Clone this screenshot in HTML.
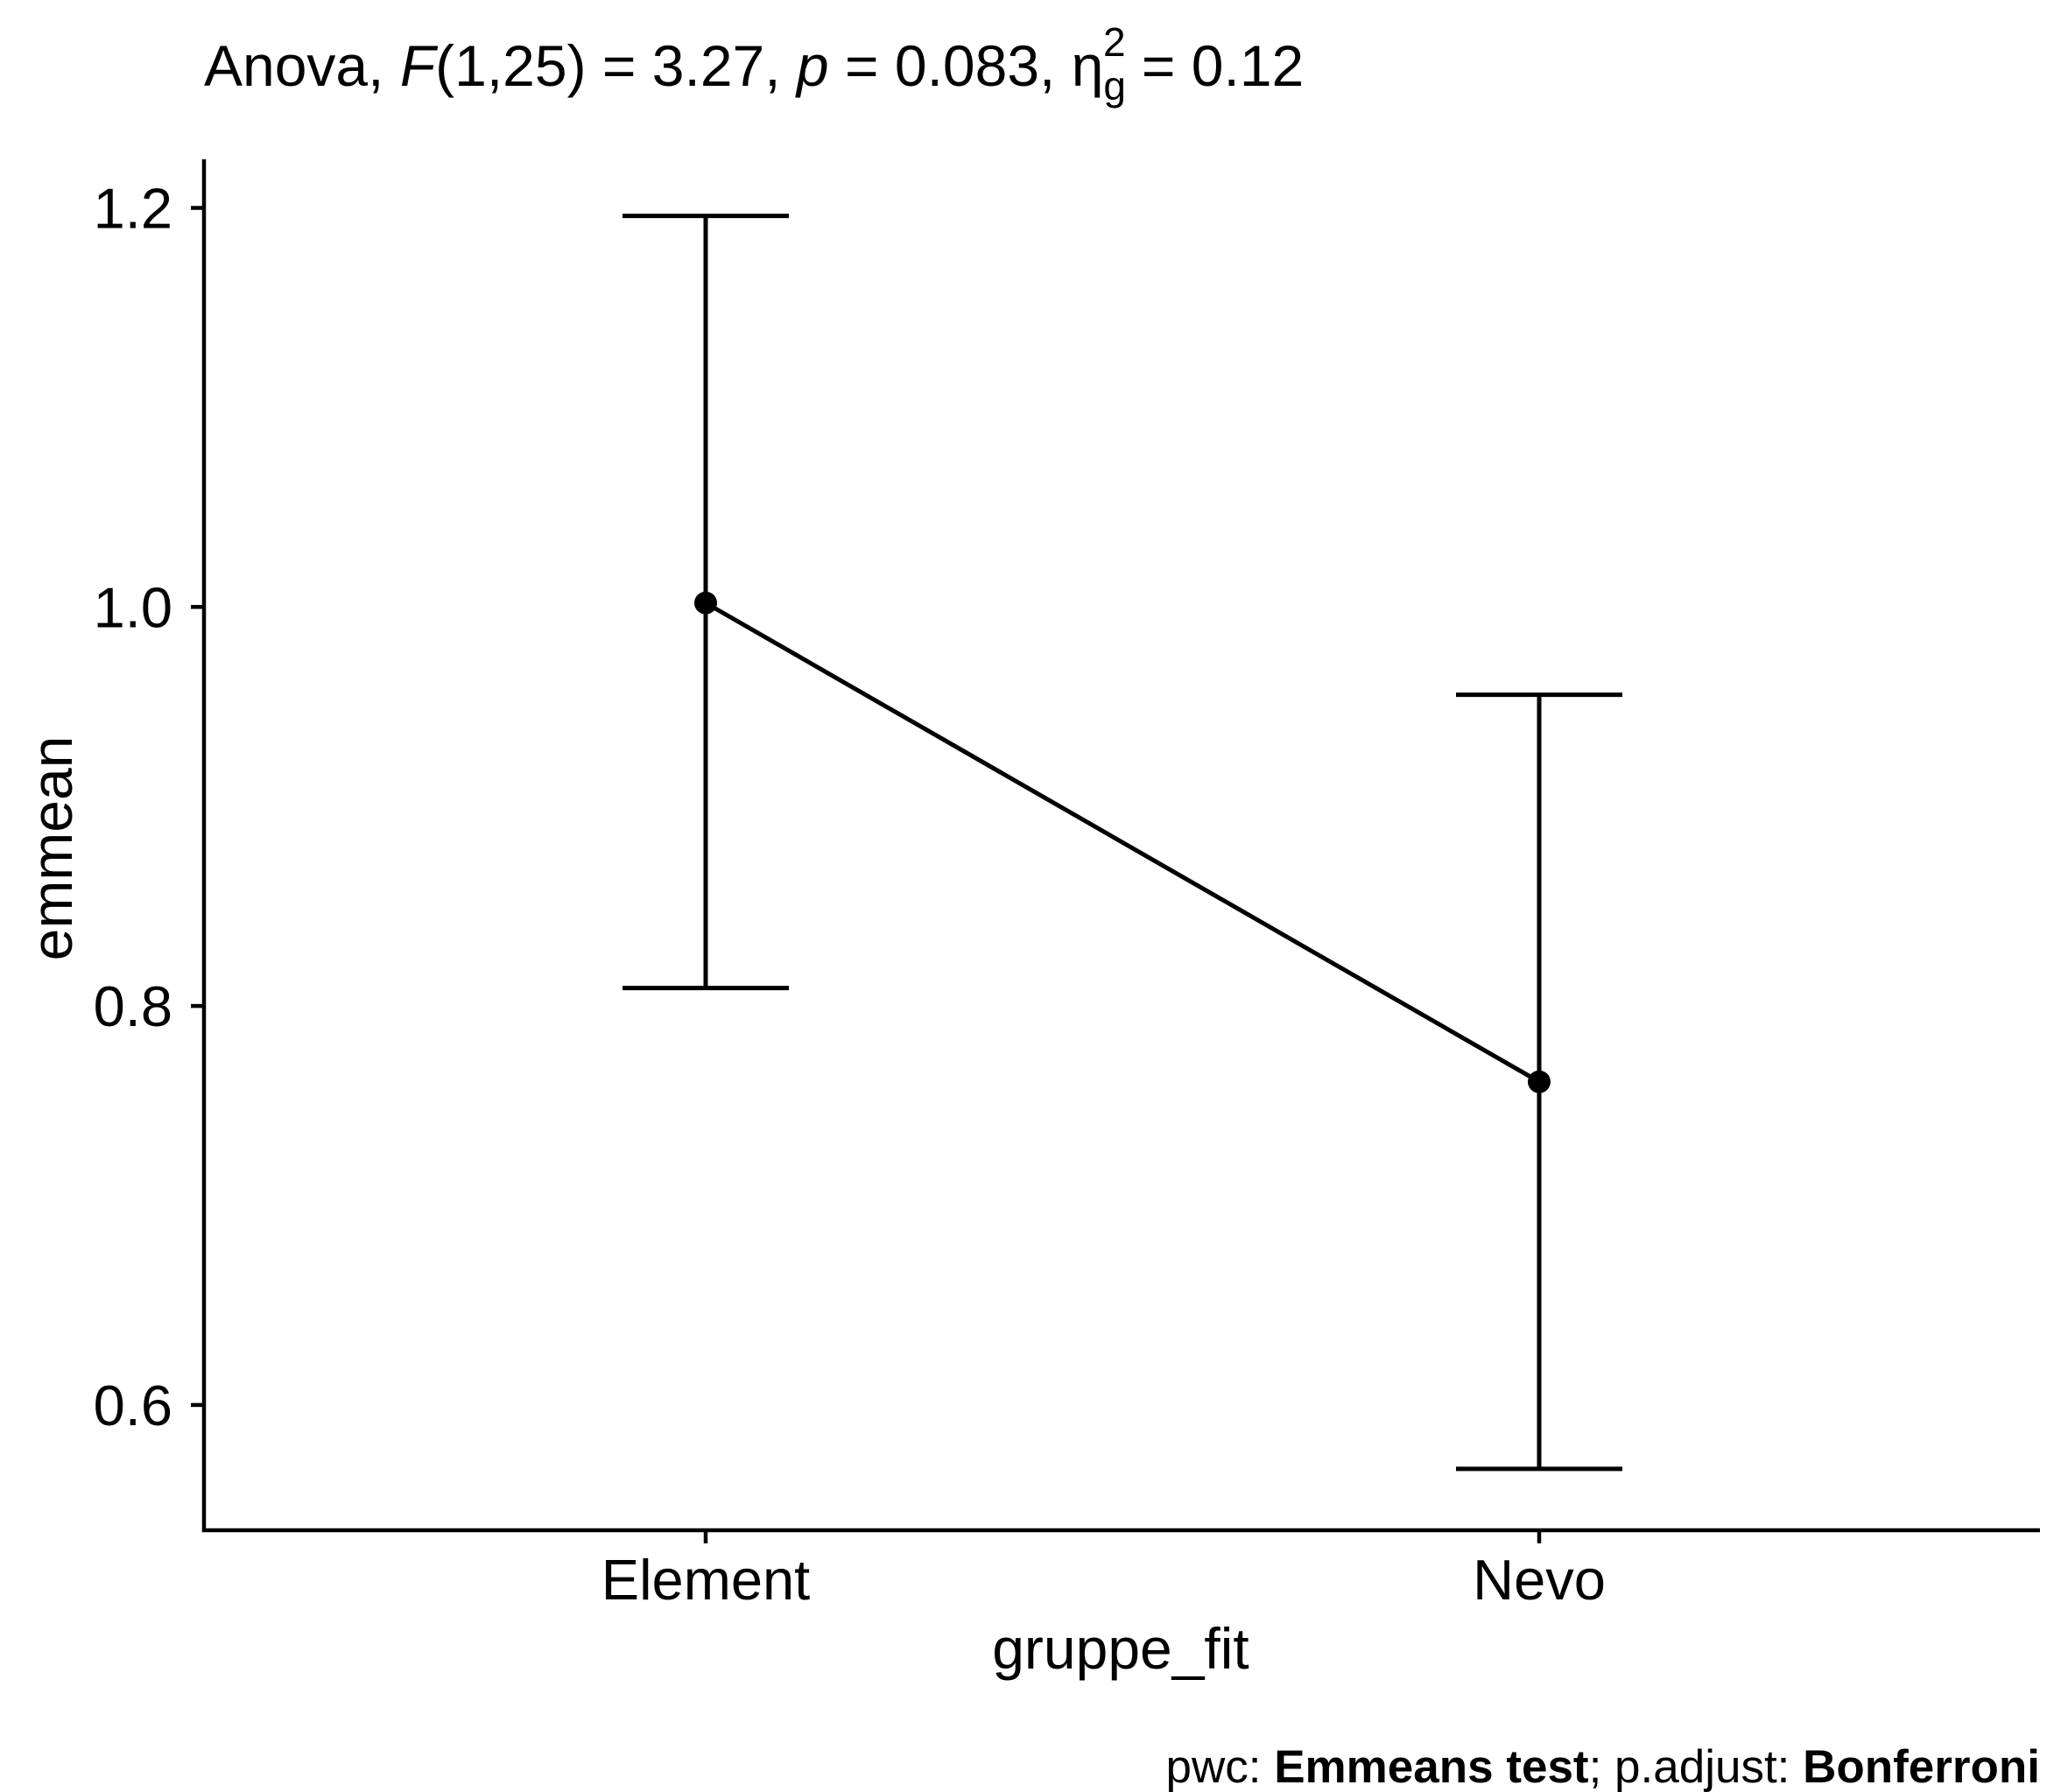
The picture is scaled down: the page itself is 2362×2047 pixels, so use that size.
<!DOCTYPE html>
<html><head><meta charset="utf-8"><style>
html,body{margin:0;padding:0;background:#fff}
svg{display:block;font-family:"Liberation Sans",Arial,sans-serif}
</style></head><body>
<svg id="chart" width="2362" height="2047" viewBox="0 0 2362 2047" xmlns="http://www.w3.org/2000/svg">
<text x="233" y="98" font-size="66">Anova, <tspan font-style="italic">F</tspan>(1,25) = 3.27, <tspan font-style="italic">p</tspan> = 0.083, η<tspan dy="16" font-size="46">g</tspan><tspan dx="-26" dy="-50" font-size="46">2</tspan><tspan dy="34"> = 0.12</tspan></text>
<g id="plot"></g>
<text transform="translate(82,969) rotate(-90)" text-anchor="middle" font-size="66">emmean</text>
<text x="1280" y="1906" text-anchor="middle" font-size="66">gruppe_fit</text>
<text x="2330" y="2036" text-anchor="end" font-size="53">pwc: <tspan font-weight="bold">Emmeans test</tspan>; p.adjust: <tspan font-weight="bold">Bonferroni</tspan></text>
</svg>
<script>
const categories = ["Element", "Nevo"];
const means = [1.002, 0.762];
const upper = [1.196, 0.956];
const lower = [0.809, 0.568];
const yTicks = [0.6, 0.8, 1.0, 1.2];
const yTickLabels = ["0.6", "0.8", "1.0", "1.2"];

const NS = "http://www.w3.org/2000/svg";
const g = document.getElementById("plot");
const axL = 233, axR = 2330, axT = 182, axB = 1748;
function yScale(v){ return 237.5 + (1.2 - v) * 2279; }
function xScale(i){ return 806 + i * 952; }
function mk(tag, attrs){ const e = document.createElementNS(NS, tag); for (const k in attrs) e.setAttribute(k, attrs[k]); g.appendChild(e); return e; }

let e = mk("line", {x1:axL, y1:axT, x2:axL, y2:axB+2, stroke:"#000", "stroke-width":4.5});


e = mk("line", {x1:axL-2, y1:axB, x2:axR, y2:axB, stroke:"#000", "stroke-width":4.5});



yTicks.forEach((v, i) => {
  const y = yScale(v);
  let t = mk("line", {x1:axL-15, y1:y, x2:axL, y2:y, stroke:"#000", "stroke-width":4.5});
  
  
  let l = mk("text", {x:axL-36, y:y+23, "text-anchor":"end", "font-size":65, fill:"#000"});
  l.textContent = yTickLabels[i];
  
  
});
categories.forEach((c, i) => {
  const x = xScale(i);
  let t = mk("line", {x1:x, y1:axB, x2:x, y2:axB+15, stroke:"#000", "stroke-width":4.5});
  
  
  let l = mk("text", {x:x, y:1827, "text-anchor":"middle", "font-size":65, fill:"#000"});
  l.textContent = c;
  
  
});
categories.forEach((c, i) => {
  const x = xScale(i), yu = yScale(upper[i]), yl = yScale(lower[i]);
  const p = mk("path", {d:`M${x-95},${yu}H${x+95}M${x},${yu}V${yl}M${x-95},${yl}H${x+95}`, stroke:"#000", "stroke-width":5, fill:"none"});
  
  
});
const ln = mk("polyline", {points: means.map((m,i)=>xScale(i)+","+yScale(m)).join(" "), stroke:"#000", "stroke-width":5, fill:"none"});


means.forEach((m, i) => {
  const c = mk("circle", {cx:xScale(i), cy:yScale(m), r:13, fill:"#000"});
  
  
});
</script>
</body></html>
